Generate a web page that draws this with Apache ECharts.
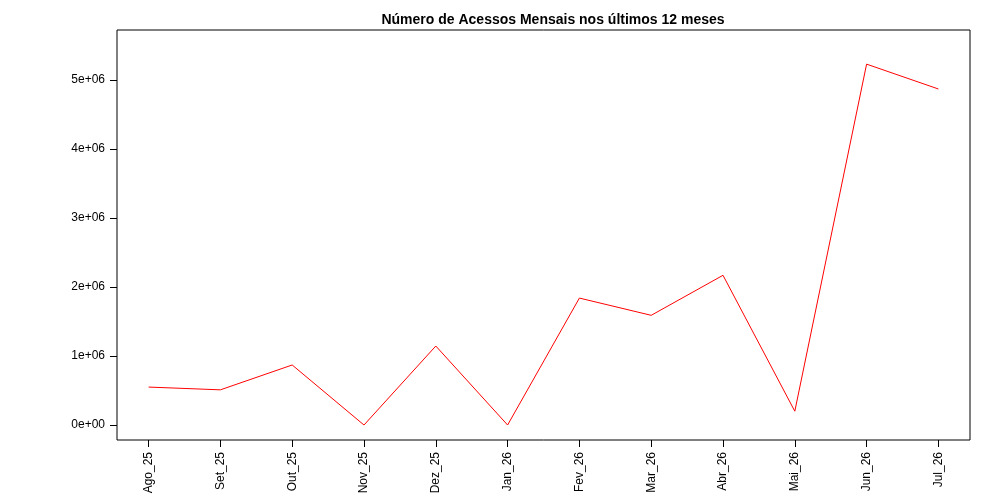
<!DOCTYPE html>
<html><head><meta charset="utf-8">
<script src="https://cdn.jsdelivr.net/npm/echarts@6/dist/echarts.min.js"></script>
<style>html,body{margin:0;background:#fff}#c{width:1000px;height:500px}</style>
</head><body><div id="c"></div>
<script>
const categories=["Ago_25","Set_25","Out_25","Nov_25","Dez_25","Jan_26","Fev_26","Mar_26","Abr_26","Mai_26","Jun_26","Jul_26"];
const values=[550000,510000,870000,0,1145000,0,1840000,1590000,2170000,200000,5230000,4870000];
const yTicks=[0,1000000,2000000,3000000,4000000,5000000];
const yLabels=["0e+00","1e+06","2e+06","3e+06","4e+06","5e+06"];
const xIdx=categories.map((_,i)=>i);
const chart=echarts.init(document.getElementById('c'));
const font='Liberation Sans';
chart.setOption({
 animation:false,
 title:{text:'Número de Acessos Mensais nos últimos 12 meses',left:548,top:8,textAlign:'center',
   textStyle:{fontFamily:font,fontSize:14,fontWeight:'bold',color:'#000'}},
 grid:{left:117,right:30,top:30,bottom:60,show:true,borderColor:'#000',borderWidth:1},
 xAxis:{type:'value',min:-0.44,max:11.44,splitLine:{show:false},axisLine:{show:false,onZero:false},
   axisTick:{show:true,length:7,customValues:xIdx,lineStyle:{color:'#000'}},
   axisLabel:{customValues:xIdx,rotate:90,margin:12,color:'#000',fontFamily:font,fontSize:12,
     formatter:v=>categories[Math.round(v)]}},
 yAxis:{type:'value',min:-217000,max:5725000,splitLine:{show:false},axisLine:{show:false,onZero:false},
   axisTick:{show:true,length:7,customValues:yTicks,lineStyle:{color:'#000'}},
   axisLabel:{customValues:yTicks,margin:12,color:'#000',fontFamily:font,fontSize:12,
     formatter:v=>yLabels[yTicks.indexOf(v)]}},
 series:[{type:'line',data:values.map((v,i)=>[i,v]),symbol:'none',lineStyle:{color:'#ff0000',width:1}}]
});
</script></body></html>
